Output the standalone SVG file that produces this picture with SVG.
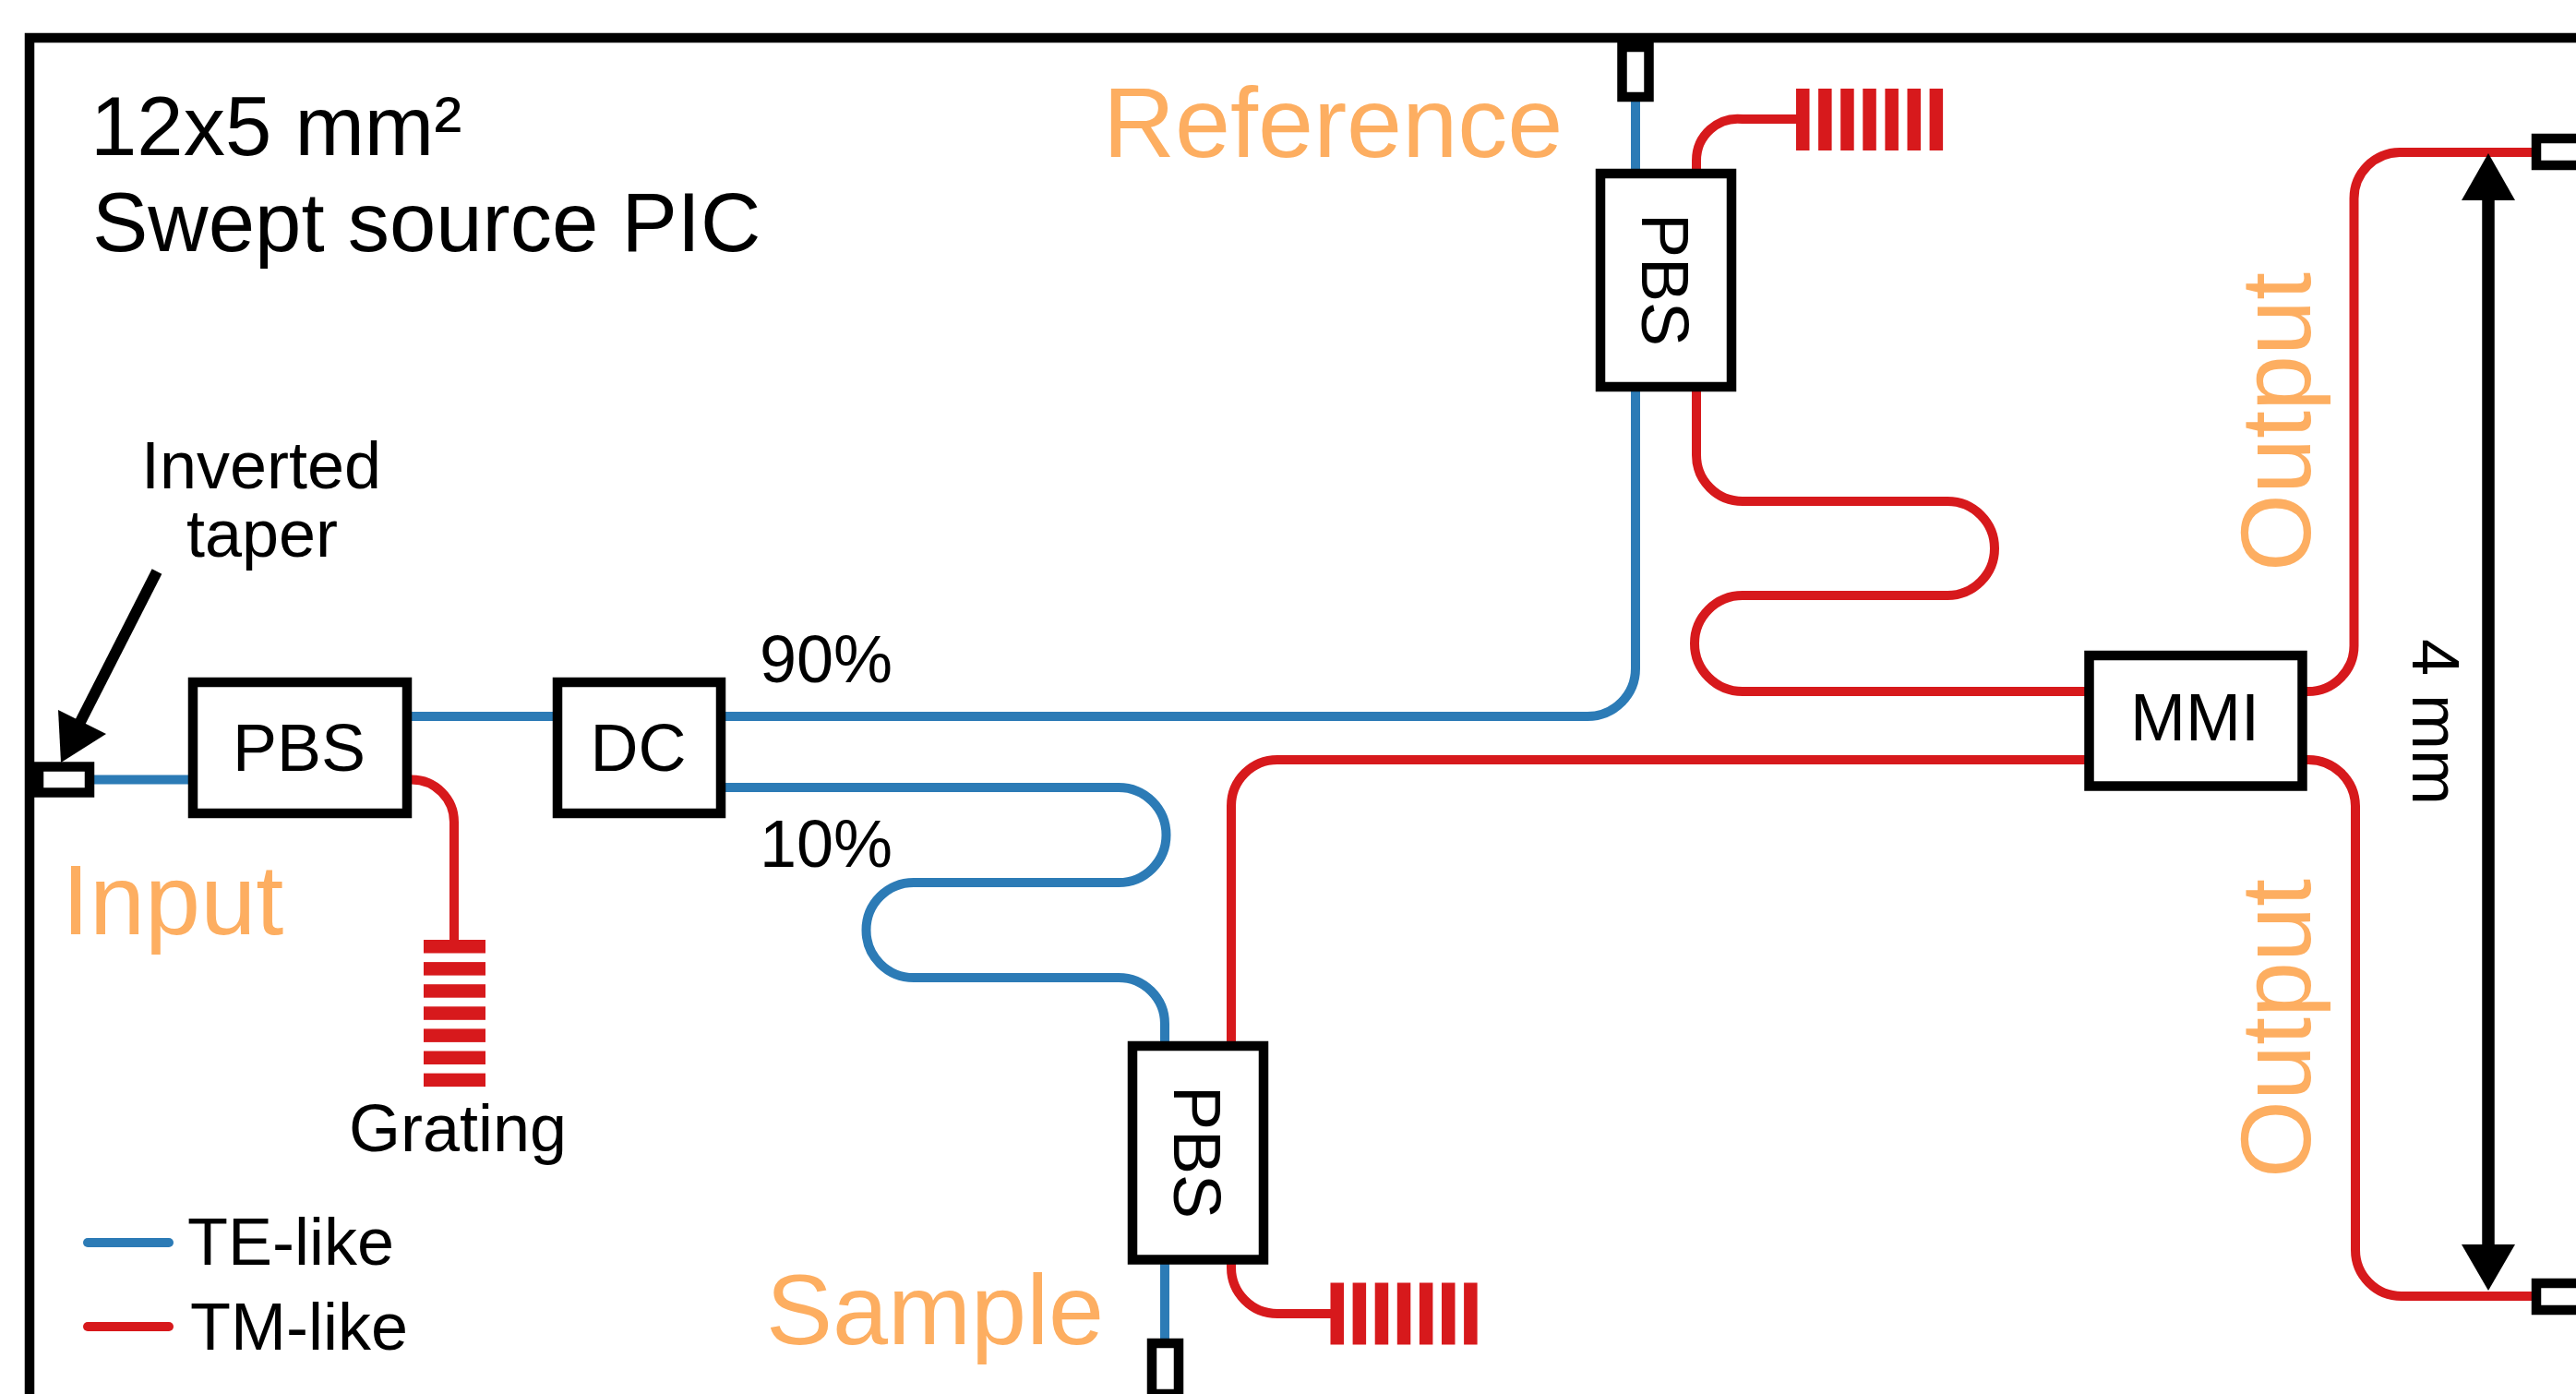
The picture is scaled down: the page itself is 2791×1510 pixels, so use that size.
<svg xmlns="http://www.w3.org/2000/svg" width="2791" height="1510" viewBox="0 0 2791 1510">
<style>
text{font-family:"Liberation Sans",Arial,sans-serif;fill:#000}
.s{font-size:72px}
.l{font-size:90.500px}
.o{font-size:108px;fill:#fdae61}
.m{text-anchor:middle}
.wg{fill:none;stroke-width:10}
.te{stroke:#2c7bb6}
.tm{stroke:#d7191c}
.box{fill:#fff;stroke:#000;stroke-width:10.500}
.bar{fill:#d7191c}
.leg{stroke-width:10;stroke-linecap:round;fill:none}
</style>
<defs>
<g id="gv"><rect x="0" y="0" width="14.5" height="67"/><rect x="24.1" y="0" width="14.5" height="67"/><rect x="48.2" y="0" width="14.5" height="67"/><rect x="72.3" y="0" width="14.5" height="67"/><rect x="96.4" y="0" width="14.5" height="67"/><rect x="120.5" y="0" width="14.5" height="67"/><rect x="144.6" y="0" width="14.5" height="67"/></g>
<g id="gh"><rect x="0" y="0" width="67" height="14.5"/><rect x="0" y="24.1" width="67" height="14.5"/><rect x="0" y="48.2" width="67" height="14.5"/><rect x="0" y="72.3" width="67" height="14.5"/><rect x="0" y="96.4" width="67" height="14.5"/><rect x="0" y="120.5" width="67" height="14.5"/><rect x="0" y="144.6" width="67" height="14.5"/></g>
</defs>
<path id="chip-border" d="M32 1510V41H2791" fill="none" stroke="#000" stroke-width="10.5"/>
<g id="connectors">
<path class="wg te" d="M97 844.5H212"/>
<path class="wg te" d="M444 776H604"/>
<path class="wg te" d="M781 776H1720A52 52 0 0 0 1772 724V100"/>
<path class="wg te" d="M781 853H1212A51.500 51.500 0 0 1 1212 956H990A51.500 51.500 0 0 0 990 1059H1212A50 50 0 0 1 1262 1109V1455"/>
<path class="wg tm" d="M446 844.500A46 46 0 0 1 492 890.500V1020"/>
<path class="wg tm" d="M1838 190V174A45 45 0 0 1 1888 129H1950"/>
<path class="wg tm" d="M1838 419V493A50 50 0 0 0 1888 543H2110A51 51 0 0 1 2110 645H1888A51.500 51.500 0 0 0 1888 749H2270"/>
<path class="wg tm" d="M2264 823H1384A50 50 0 0 0 1334 873V1135"/>
<path class="wg tm" d="M1334 1365V1373A50 50 0 0 0 1384 1423H1445"/>
<path class="wg tm" d="M2495 749H2500A50 50 0 0 0 2550.500 698V215A50 50 0 0 1 2600 165H2748"/>
<path class="wg tm" d="M2495 823H2500A51 51 0 0 1 2552 873V1354A50 50 0 0 0 2602 1404H2748"/>
</g>
<g id="grating-input"><use href="#gh" x="459" y="1018" class="bar"/></g>
<g id="grating-reference"><use href="#gv" x="1946" y="96" class="bar"/></g>
<g id="grating-sample"><use href="#gv" x="1441.500" y="1389.500" class="bar"/></g>
<g id="taper-input"><rect class="box" x="42" y="830.500" width="55" height="28"/></g>
<g id="taper-reference"><rect class="box" x="1757.500" y="51" width="29" height="54"/></g>
<g id="taper-sample"><rect class="box" x="1248" y="1455" width="29" height="55"/></g>
<g id="taper-output-1"><rect class="box" x="2748" y="150" width="60" height="29"/></g>
<g id="taper-output-2"><rect class="box" x="2748" y="1390" width="60" height="29"/></g>
<g id="pbs-input"><rect class="box" x="209" y="739" width="232" height="142"/><text class="s m" x="324" y="835">PBS</text></g>
<g id="dc"><rect class="box" x="604" y="739" width="177" height="142"/><text class="s m" x="691.500" y="835">DC</text></g>
<g id="pbs-reference"><rect class="box" x="1734" y="188" width="142" height="231"/><text class="s m" transform="translate(1779 303) rotate(90)">PBS</text></g>
<g id="pbs-sample"><rect class="box" x="1227" y="1133" width="142" height="231.500"/><text class="s m" transform="translate(1272 1248) rotate(90)">PBS</text></g>
<g id="mmi"><rect class="box" x="2263.500" y="710" width="231" height="141.500"/><text class="s m" x="2378" y="802">MMI</text></g>
<g id="dimension">
<path d="M2696 210V1355" stroke="#000" stroke-width="13.500" fill="none"/>
<path d="M2696 166L2725 217H2667Z"/>
<path d="M2696 1398L2725 1348H2667Z"/>
<text class="s m" transform="translate(2614 782) rotate(90)">4 mm</text>
</g>
<g id="taper-pointer">
<path d="M170 619L87 782" stroke="#000" stroke-width="12" fill="none"/>
<path d="M66 826L63 769L115 795Z"/>
</g>
<g id="labels">
<text class="l" x="98" y="168">12x5 mm²</text>
<text class="l" x="100" y="272">Swept source PIC</text>
<text class="s m" x="283" y="529">Inverted</text>
<text class="s m" x="284" y="603">taper</text>
<text class="s" x="823" y="739">90%</text>
<text class="s" x="823" y="939">10%</text>
<text class="s m" x="496" y="1247">Grating</text>
<text class="o" x="67" y="1012">Input</text>
<text class="o" x="1195" y="170">Reference</text>
<text class="o" x="830" y="1456">Sample</text>
<text class="o m" transform="translate(2503 457) rotate(-90)">Output</text>
<text class="o m" transform="translate(2503 1114) rotate(-90)">Output</text>
</g>
<g id="legend">
<path class="leg te" d="M95 1346H183"/>
<path class="leg tm" d="M95 1437H183"/>
<text class="s" x="203" y="1369.500">TE-like</text>
<text class="s" x="206" y="1461.500">TM-like</text>
</g>
</svg>
